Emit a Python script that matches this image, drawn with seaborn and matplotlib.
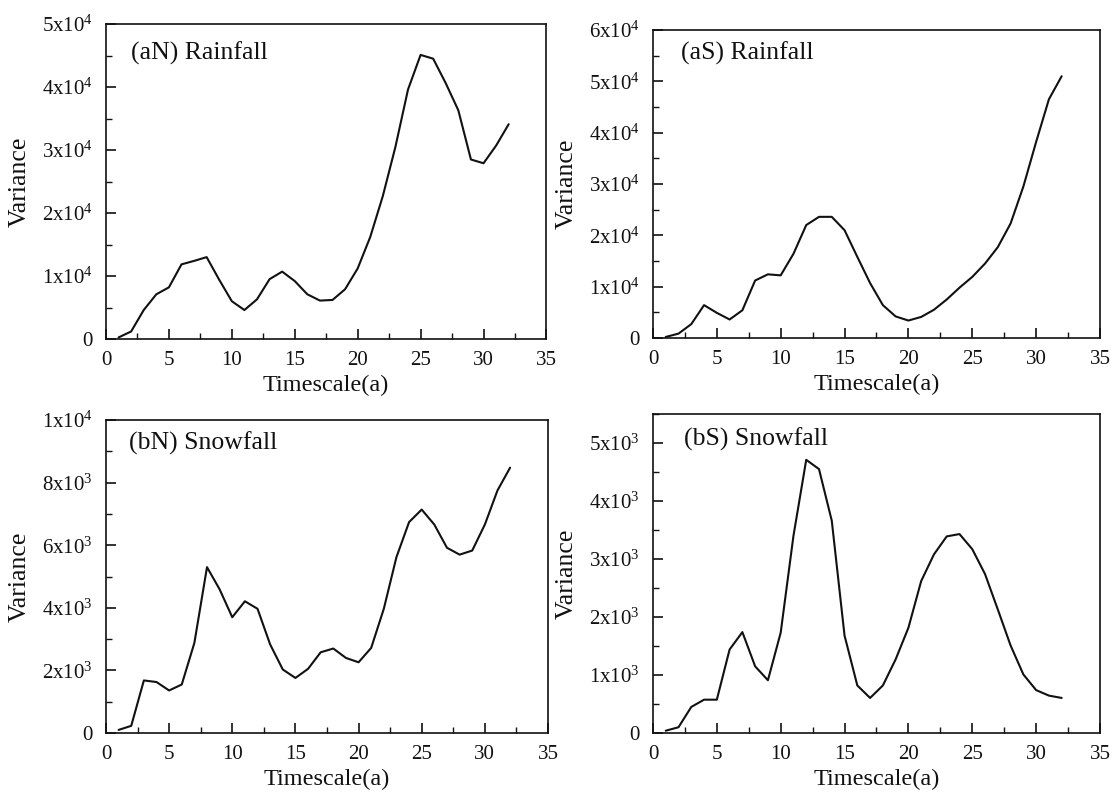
import matplotlib
matplotlib.use("Agg")
import matplotlib.pyplot as plt
import seaborn as sns
import pandas as pd
from matplotlib.ticker import MultipleLocator, FixedLocator, FixedFormatter

timescale = list(range(1, 33))
rain_n = [250, 1200, 4600, 7100, 8200, 11850, 12400, 13000, 9400, 6000, 4600, 6300,
          9500, 10700, 9200, 7100, 6100, 6200, 7900, 11200, 16200, 22700, 30500, 39600,
          45100, 44500, 40600, 36300, 28500, 27900, 30700, 34100]
rain_s = [200, 850, 2700, 6400, 4900, 3600, 5400, 11200, 12400, 12200, 16400, 22000,
          23600, 23600, 21000, 15800, 10700, 6400, 4200, 3400, 4100, 5500, 7500, 9800,
          11900, 14500, 17700, 22300, 29500, 38200, 46500, 51000]
snow_n = [100, 230, 1680, 1630, 1360, 1550, 2880, 5300, 4590, 3700, 4210, 3970,
          2830, 2030, 1760, 2050, 2580, 2700, 2400, 2260, 2720, 3970, 5620, 6740,
          7140, 6660, 5920, 5700, 5830, 6660, 7750, 8480]
snow_s = [40, 100, 450, 575, 575, 1440, 1740, 1150, 910, 1730, 3400, 4710,
          4550, 3660, 1680, 820, 605, 820, 1270, 1815, 2620, 3080, 3390, 3430,
          3170, 2740, 2130, 1510, 1010, 740, 645, 605]

titles = ["(aN) Rainfall", "(aS) Rainfall", "(bN) Snowfall", "(bS) Snowfall"]
x_ticks = [0, 5, 10, 15, 20, 25, 30, 35]
y_ticks_aN = [0, 10000, 20000, 30000, 40000, 50000]
y_labels_aN = ["0", r"$\mathregular{1x10^{4}}$", r"$\mathregular{2x10^{4}}$",
               r"$\mathregular{3x10^{4}}$", r"$\mathregular{4x10^{4}}$", r"$\mathregular{5x10^{4}}$"]
y_ticks_aS = [0, 10000, 20000, 30000, 40000, 50000, 60000]
y_labels_aS = y_labels_aN + [r"$\mathregular{6x10^{4}}$"]
y_ticks_bN = [0, 2000, 4000, 6000, 8000, 10000]
y_labels_bN = ["0", r"$\mathregular{2x10^{3}}$", r"$\mathregular{4x10^{3}}$",
               r"$\mathregular{6x10^{3}}$", r"$\mathregular{8x10^{3}}$", r"$\mathregular{1x10^{4}}$"]
y_ticks_bS = [0, 1000, 2000, 3000, 4000, 5000]
y_labels_bS = ["0", r"$\mathregular{1x10^{3}}$", r"$\mathregular{2x10^{3}}$",
               r"$\mathregular{3x10^{3}}$", r"$\mathregular{4x10^{3}}$", r"$\mathregular{5x10^{3}}$"]

sns.set_style("ticks")
plt.rcParams["font.family"] = ["Liberation Serif", "DejaVu Serif"]
plt.rcParams["mathtext.fontset"] = "custom"
plt.rcParams["mathtext.rm"] = "Liberation Serif"
plt.rcParams["mathtext.it"] = "Liberation Serif:italic"

fig = plt.figure(figsize=(11.12, 7.96), dpi=100)
rects = [
    [0.0953, 0.5741, 0.3961, 0.3957],
    [0.5872, 0.5754, 0.4020, 0.3869],
    [0.0953, 0.0791, 0.3975, 0.3932],
    [0.5872, 0.0791, 0.4020, 0.4008],
]
series = [rain_n, rain_s, snow_n, snow_s]
yticks = [y_ticks_aN, y_ticks_aS, y_ticks_bN, y_ticks_bS]
ylabels = [y_labels_aN, y_labels_aS, y_labels_bN, y_labels_bS]
ylims = [(0, 50000), (0, 60000), (0, 10000), (0, 5500)]
yminor = [5000, 5000, 1000, 500]
text_pos = [(0.057, 0.908), (0.063, 0.925), (0.053, 0.927), (0.069, 0.92)]

for i in range(4):
    ax = fig.add_axes(rects[i])
    df = pd.DataFrame({"Timescale": timescale, "Variance": series[i]})
    sns.lineplot(data=df, x="Timescale", y="Variance", ax=ax, color="#111111", linewidth=1.5)
    ax.set_xlim(0, 35)
    ax.set_ylim(*ylims[i])
    ax.xaxis.set_major_locator(FixedLocator(x_ticks))
    ax.xaxis.set_minor_locator(MultipleLocator(2.5))
    ax.yaxis.set_major_locator(FixedLocator(yticks[i]))
    ax.yaxis.set_major_formatter(FixedFormatter(ylabels[i]))
    ax.yaxis.set_minor_locator(MultipleLocator(yminor[i]))
    ax.tick_params(which="both", direction="in", top=False, right=False, labelsize=15,
                   color="#111111", labelcolor="#111111")
    ax.tick_params(axis="y", which="major", pad=9.5)
    ax.tick_params(axis="x", which="major", pad=8.5)
    ax.tick_params(which="major", length=7, width=1.2)
    ax.tick_params(which="minor", length=4, width=1.0)
    for sp in ax.spines.values():
        sp.set_linewidth(1.2)
        sp.set_color("#111111")
    ax.set_xlabel("Timescale(a)", fontsize=17.5, color="#111111", labelpad=3.5)
    ax.set_ylabel("Variance", fontsize=18.5, color="#111111", labelpad=8)
    ax.text(text_pos[i][0], text_pos[i][1], titles[i], transform=ax.transAxes,
            fontsize=18.5, va="center", ha="left", color="#111111")

fig.savefig("out.png", dpi=100)
